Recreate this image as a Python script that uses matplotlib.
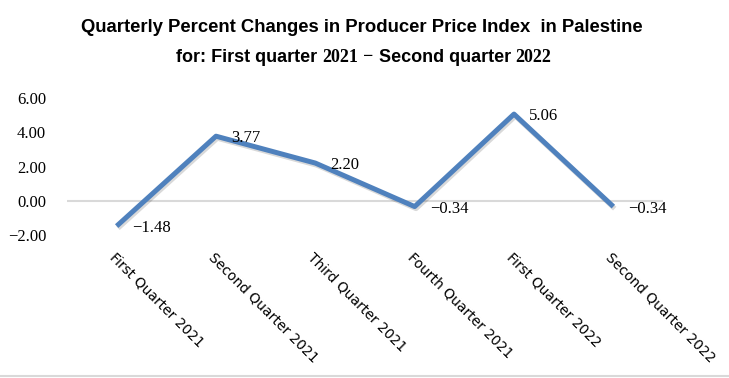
import matplotlib.pyplot as plt
import matplotlib.patheffects as pe
from matplotlib.lines import Line2D

quarters = ["First Quarter 2021", "Second Quarter 2021", "Third Quarter 2021",
            "Fourth Quarter 2021", "First Quarter 2022", "Second Quarter 2022"]
changes = [-1.48, 3.77, 2.20, -0.34, 5.06, -0.34]
y_ticks = [-2, 0, 2, 4, 6]

LINE_COLOR = "#4F81BD"
SANS = "Liberation Sans"
SERIF = "Liberation Serif"

fig = plt.figure(figsize=(7.29, 3.78), dpi=100)
ax = fig.add_axes([67 / 729, 1 - 235 / 378, 596 / 729, 137 / 378])

x = list(range(len(quarters)))
ax.axhline(0, color="#D9D9D9", lw=1.5, zorder=1)
ax.plot(x, changes, color=LINE_COLOR, lw=3.6, solid_capstyle="butt", zorder=3,
        path_effects=[pe.SimpleLineShadow(offset=(1, -1.5), alpha=0.15), pe.Normal()])

for xi, v in zip(x, changes):
    ax.annotate(f"{v:.2f}".replace("-", "\u2212"), (xi, v), xytext=(11, -1.5),
                textcoords="offset points", ha="left", va="center",
                fontsize=12, family=SERIF, zorder=4)

ax.set_xlim(-0.5, len(quarters) - 0.5)
ax.set_ylim(-2, 6)
ax.set_yticks(y_ticks)
ax.set_yticklabels([f"{t:.2f}".replace("-", "\u2212") for t in y_ticks],
                   family=SERIF, fontsize=12)
ax.set_xticks(x)
ax.set_xticklabels(quarters, rotation=-45, ha="left", va="top",
                   rotation_mode="anchor", family="DejaVu Sans", fontsize=10)
ax.tick_params(axis="y", length=0, pad=15)
ax.tick_params(axis="x", length=0, pad=11)
for s in ax.spines.values():
    s.set_visible(False)

fig.text(362 / 729, 1 - 27 / 378, "Quarterly Percent Changes in Producer Price Index  in Palestine",
         ha="center", va="center", fontsize=13.3, fontweight="bold", family=SANS)

# subtitle mixes sans words with serif years
parts = [("for: First quarter", SANS), ("2021", SERIF), ("\u2212", SERIF),
         ("Second quarter", SANS), ("2022", SERIF)]
gap = 5
renderer = fig.canvas.get_renderer()
texts = []
for s, fam in parts:
    t = fig.text(0, 1 - 57 / 378, s, ha="left", va="center", fontsize=13,
                 fontweight="bold", family=fam)
    texts.append(t)
widths = [t.get_window_extent(renderer).width for t in texts]
total = sum(widths) + gap * (len(widths) - 1)
xpos = 364 - total / 2
for t, w in zip(texts, widths):
    t.set_x(xpos / 729)
    xpos += w + gap

fig.add_artist(Line2D([0, 1], [2 / 378, 2 / 378], color="#D9D9D9", lw=1.5))

fig.savefig("out.png", dpi=100)
